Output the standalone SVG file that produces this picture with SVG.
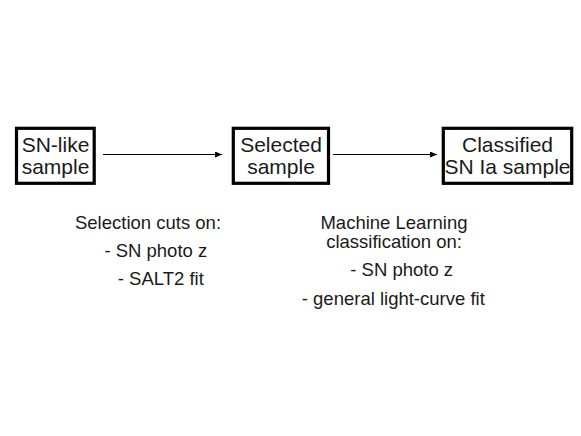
<svg xmlns="http://www.w3.org/2000/svg" width="581" height="436" viewBox="0 0 581 436">
<style>
.box{fill:#fff;stroke:#000;stroke-width:3.2}
.bt{font-family:"Liberation Sans",Arial,sans-serif;font-size:21px;fill:#1a1a1a;text-anchor:middle}
.lt{font-family:"Liberation Sans",Arial,sans-serif;font-size:18.5px;fill:#1a1a1a;text-anchor:middle}
.conn{stroke:#000;stroke-width:1.2;fill:none}
</style>
<defs>
<marker id="ah" markerWidth="7" markerHeight="6" refX="7" refY="3" orient="auto" markerUnits="userSpaceOnUse">
<path d="M0,0 L7,3 L0,6 Z" fill="#000"/>
</marker>
</defs>
<rect width="581" height="436" fill="#fff"/>
<g id="connectors">
<line class="conn" x1="103" y1="154.5" x2="222" y2="154.5" marker-end="url(#ah)"/>
<line class="conn" x1="333" y1="154.5" x2="437" y2="154.5" marker-end="url(#ah)"/>
</g>
<g id="node-snlike">
<rect class="box" x="16.5" y="128.3" width="77.7" height="55"/>
<text class="bt" x="55.5" y="152">SN-like</text>
<text class="bt" x="55.5" y="174">sample</text>
</g>
<g id="node-selected">
<rect class="box" x="233.3" y="128.3" width="95.2" height="55"/>
<text class="bt" x="281" y="152">Selected</text>
<text class="bt" x="281" y="174">sample</text>
</g>
<g id="node-classified">
<rect class="box" x="443.3" y="128.3" width="128.4" height="55"/>
<text class="bt" x="507.5" y="152">Classified</text>
<text class="bt" x="507.5" y="174">SN Ia sample</text>
</g>
<g id="label-selection">
<text class="lt" x="148" y="228.5">Selection cuts on:</text>
<text class="lt" x="155.8" y="256.5">- SN photo z</text>
<text class="lt" x="160.8" y="285">- SALT2 fit</text>
</g>
<g id="label-ml">
<text class="lt" x="394" y="228.5">Machine Learning</text>
<text class="lt" x="394" y="247.5">classification on:</text>
<text class="lt" x="401.7" y="276">- SN photo z</text>
<text class="lt" x="393.3" y="304.5">- general light-curve fit</text>
</g>
</svg>
